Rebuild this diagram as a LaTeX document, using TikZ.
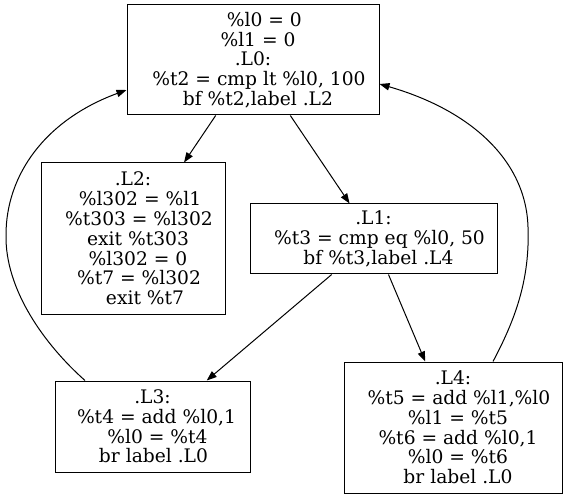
\documentclass[tikz,border=0pt]{standalone}
\usepackage{fontspec}
\setmainfont{DejaVu Serif}
\usetikzlibrary{calc,arrows.meta}

\begin{document}
\begin{tikzpicture}[x=0.75pt,y=-0.75pt,line width=0.75pt,
    block/.style={draw,rectangle,align=center,inner sep=0pt,
        font=\fontsize{14}{14.85}\selectfont},
    flow/.style={-{Triangle[length=7.5pt,width=5.5pt]}}]
        \useasboundingbox (0,0) rectangle (568,499);
        \node[block,minimum width=189pt,minimum height=82.5pt] (L0) at (253,60)
            {\hspace*{17pt}\%l0 = 0\\ \hspace*{7.5pt}\%l1 = 0\\ .L0:\hspace*{3pt}\\
             \hspace*{9pt}\%t2 = cmp lt \%l0, 100\\ \hspace*{7.5pt}bf \%t2,label .L2};
        \node[block,minimum width=138pt,minimum height=113.25pt] (L2) at (133,238.5)
            {.L2:\\ \hspace*{10.5pt}\%l302 = \%l1\\ \hspace*{9pt}\%t303 = \%l302\\
             \hspace*{7.5pt}exit \%t303\\ \hspace*{7.5pt}\%l302 = 0\\
             \hspace*{9pt}\%t7 = \%l302\\ \hspace*{18pt}exit \%t7};
        \node[block,minimum width=185.25pt,minimum height=52.5pt] (L1) at (373.5,239)
            {.L1:\\ \hspace*{9pt}\%t3 = cmp eq \%l0, 50\\ \hspace*{7.5pt}bf \%t3,label .L4};
        \node[block,minimum width=146.25pt,minimum height=68.25pt] (L3) at (152.5,426.5)
            {.L3:\\ \hspace*{6pt}\%t4 = add \%l0,1\\ \hspace*{7.5pt}\%l0 = \%t4\\
             \hspace*{1.5pt}br label .L0};
        \node[block,minimum width=163.5pt,minimum height=98.25pt] (L4) at (453,427.5)
            {.L4:\\ \hspace*{9pt}\%t5 = add \%l1,\%l0\\ \hspace*{7.5pt}\%l1 = \%t5\\
             \hspace*{7.5pt}\%t6 = add \%l0,1\\ \hspace*{7.5pt}\%l0 = \%t6\\
             \hspace*{7.5pt}br label .L0};
        \draw[flow] (L0)--(L2);
        \draw[flow] (L0)--(L1);
        \draw[flow] (L1)--(L3);
        \draw[flow] (L1)--(L4);
        % back edges
        \draw[flow] ($(L3.north)+(-67.5,0)$) .. controls (45,345) and (5,290) .. (6,235)
            .. controls (6,175) and (45,120) .. ($(L0.west)+(0,30)$);
        \draw[flow] ($(L4.north)+(40,0)$) .. controls (515,320) and (530,280) .. (528,227)
            .. controls (526,160) and (470,110) .. ($(L0.east)+(0,24)$);
\end{tikzpicture}
\end{document}
